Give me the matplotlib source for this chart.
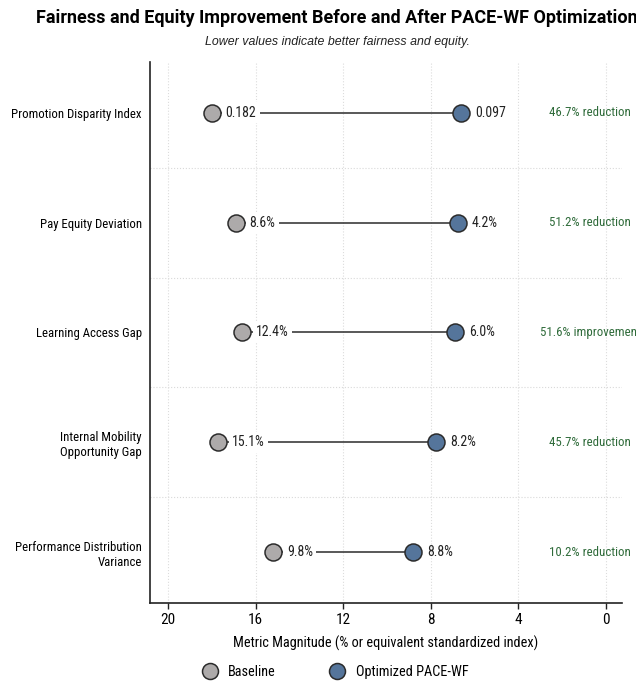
import numpy as np
import matplotlib
matplotlib.use("Agg")
from matplotlib import pyplot as plt
from matplotlib import font_manager as fm
from matplotlib.lines import Line2D

# Data
metrics = [
    "Promotion Disparity Index",
    "Pay Equity Deviation",
    "Learning Access Gap",
    "Internal Mobility\nOpportunity Gap",
    "Performance Distribution\nVariance",
]
baseline_pos = [18.0, 16.9, 16.6, 17.7, 15.2]
optimized_pos = [6.6, 6.75, 6.9, 7.75, 8.8]
baseline_labels = ["0.182", "8.6%", "12.4%", "15.1%", "9.8%"]
optimized_labels = ["0.097", "4.2%", "6.0%", "8.2%", "8.8%"]
change_labels = ["46.7% reduction", "51.2% reduction", "51.6% improvement",
                 "45.7% reduction", "10.2% reduction"]
x_ticks = [20, 16, 12, 8, 4, 0]


def first_font(candidates):
    installed = set(f.name for f in fm.fontManager.ttflist)
    for c in candidates:
        if c in installed:
            return [c, "DejaVu Sans"]
    return ["DejaVu Sans"]


narrow = first_font(["Liberation Sans Narrow", "Roboto Condensed", "Archivo Narrow", "Barlow Condensed"])
sans = first_font(["Roboto", "Liberation Sans", "Arimo"])
sans_it = first_font(["Liberation Sans", "Arimo", "Roboto"])

col_base = "#adaaaa"
col_opt = "#55759b"
col_green = "#2f6b3a"

fig = plt.figure(figsize=(6.36, 6.84), dpi=100)
ax = fig.add_axes([0.2358, 0.1184, 0.742, 0.791])

y = np.arange(len(metrics))

# Connecting lines
for i in y:
    ax.plot([baseline_pos[i], optimized_pos[i]], [i, i], color="#2b2b2b", lw=1.1, zorder=2)

ax.scatter(baseline_pos, y, s=150, color=col_base, edgecolor="#2b2b2b", linewidth=1.1, zorder=4)
ax.scatter(optimized_pos, y, s=150, color=col_opt, edgecolor="#2b2b2b", linewidth=1.1, zorder=4)

for i in y:
    ax.annotate(baseline_labels[i], (baseline_pos[i], i), xytext=(10, 0),
                textcoords="offset points", ha="left", va="center",
                fontsize=10, family=narrow, color="#222222", zorder=3,
                bbox=dict(boxstyle="square,pad=0.25", fc="white", ec="none"))
    ax.annotate(optimized_labels[i], (optimized_pos[i], i), xytext=(10, 0),
                textcoords="offset points", ha="left", va="center",
                fontsize=10, family=narrow, color="#222222", zorder=3)
    ax.text(0.73, i, change_labels[i], ha="center", va="center", fontsize=9.3,
            family=narrow, color=col_green, clip_on=False)

# Row separators
for b in np.arange(0.5, len(metrics) - 0.5, 1.0):
    ax.axhline(b, color="#d9d9d9", lw=0.8, ls=":", zorder=0)

ax.set_xlim(20.82, -0.73)
ax.set_ylim(len(metrics) - 0.54, -0.46)
ax.set_xticks(x_ticks)
ax.set_xticklabels([str(t) for t in x_ticks], family=narrow, fontsize=11)
ax.set_yticks(y)
ax.set_yticklabels(metrics, family=narrow, fontsize=9.2)
ax.tick_params(axis="y", length=0, pad=6)
ax.tick_params(axis="x", length=4, width=1, direction="out", color="#222222")
ax.grid(axis="x", color="#dcdcdc", lw=0.8, ls=":")
ax.set_axisbelow(True)

for side in ["top", "right"]:
    ax.spines[side].set_visible(False)
ax.spines["left"].set_linewidth(1.2)
ax.spines["bottom"].set_linewidth(1.2)
ax.spines["left"].set_color("#222222")
ax.spines["bottom"].set_color("#222222")

ax.set_xlabel("Metric Magnitude (% or equivalent standardized index)",
              family=narrow, fontsize=10.3, labelpad=6)

fig.text(0.53, 0.973, "Fairness and Equity Improvement Before and After PACE-WF Optimization",
         ha="center", va="center", fontsize=13, fontweight="bold", family=sans)
fig.text(0.53, 0.939, "Lower values indicate better fairness and equity.",
         ha="center", va="center", fontsize=8.9, style="italic", family=sans_it, color="#222222")

handles = [
    Line2D([], [], marker="o", ls="none", markersize=11.5, markerfacecolor=col_base,
           markeredgecolor="#2b2b2b", markeredgewidth=1.1, label="Baseline"),
    Line2D([], [], marker="o", ls="none", markersize=11.5, markerfacecolor=col_opt,
           markeredgecolor="#2b2b2b", markeredgewidth=1.1, label="Optimized PACE-WF"),
]
fig.legend(handles=handles, loc="center", bbox_to_anchor=(0.522, 0.018), ncol=2,
           frameon=False, prop={"family": narrow, "size": 10.3}, columnspacing=3.3,
           handletextpad=0.3)

fig.savefig("out.png", dpi=100)
